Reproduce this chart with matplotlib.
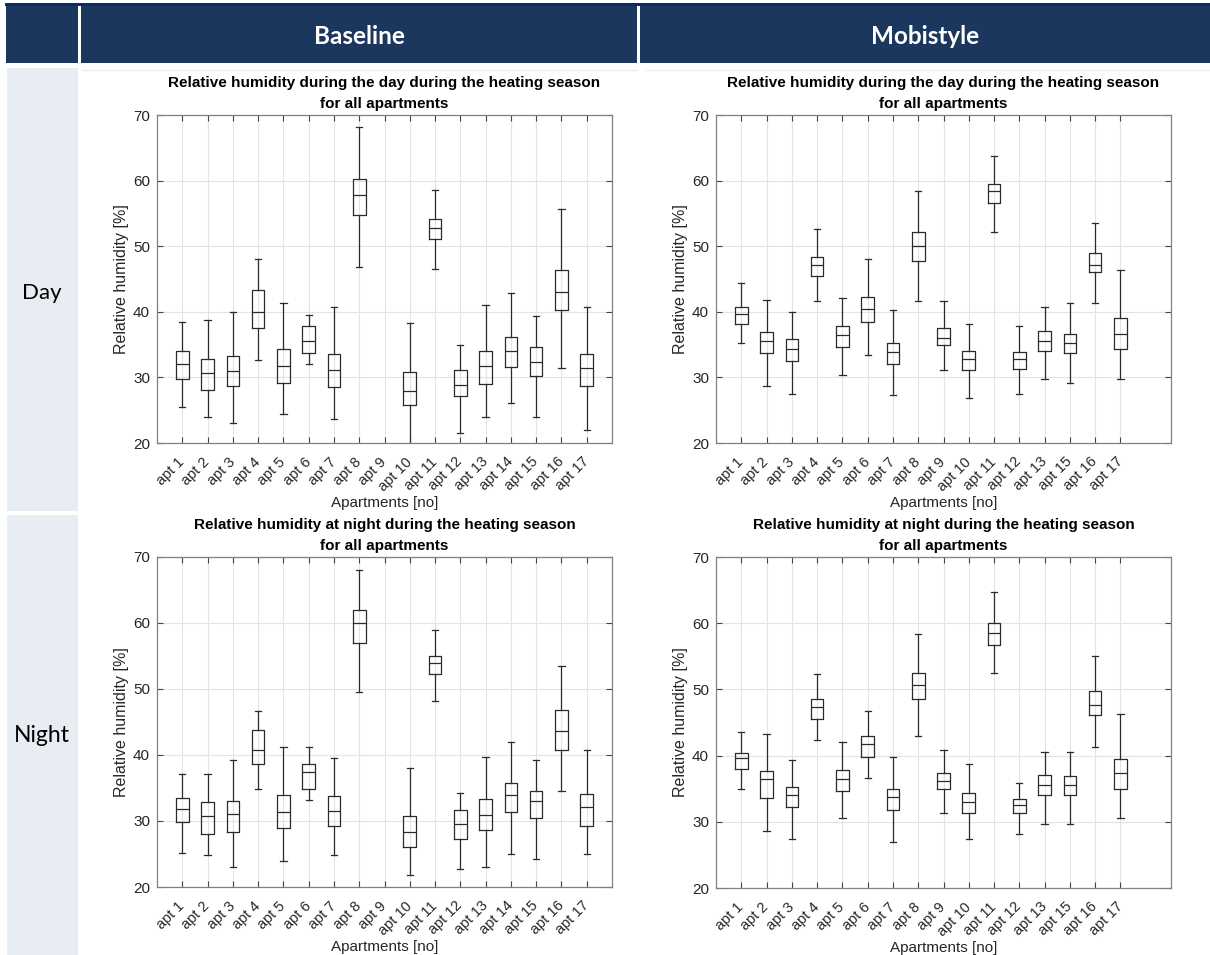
import numpy as np
import matplotlib.pyplot as plt
from matplotlib.patches import Rectangle
from matplotlib.lines import Line2D

plt.rcParams['font.family'] = ['Liberation Sans', 'DejaVu Sans']

W, H = 1210, 955

# categories
apts_base = ['apt 1', 'apt 2', 'apt 3', 'apt 4', 'apt 5', 'apt 6', 'apt 7', 'apt 8', 'apt 9',
             'apt 10', 'apt 11', 'apt 12', 'apt 13', 'apt 14', 'apt 15', 'apt 16', 'apt 17']
apts_mobi = ['apt 1', 'apt 2', 'apt 3', 'apt 4', 'apt 5', 'apt 6', 'apt 7', 'apt 8', 'apt 9',
             'apt 10', 'apt 11', 'apt 12', 'apt 13', 'apt 15', 'apt 16', 'apt 17']
nan = np.nan

# Baseline - day (apt 9 has no data)
bd_lo = [25.5, 24.0, 23.0, 32.7, 24.4, 32.0, 23.6, 46.8, nan, 19.0, 46.5, 21.5, 24.0, 26.1, 24.0, 31.4, 22.0]
bd_q1 = [29.8, 28.1, 28.7, 37.6, 29.1, 33.7, 28.6, 54.8, nan, 25.8, 51.1, 27.1, 29.0, 31.6, 30.2, 40.2, 28.7]
bd_md = [32.0, 30.7, 30.9, 40.0, 31.8, 35.5, 31.2, 57.8, nan, 28.0, 52.8, 28.9, 31.7, 34.0, 32.4, 43.0, 31.4]
bd_q3 = [34.0, 32.8, 33.3, 43.3, 34.3, 37.8, 33.6, 60.3, nan, 30.8, 54.1, 31.2, 34.0, 36.1, 34.6, 46.4, 33.6]
bd_hi = [38.4, 38.8, 40.0, 48.1, 41.4, 39.5, 40.8, 68.1, nan, 38.3, 58.6, 35.0, 41.0, 42.9, 39.3, 55.6, 40.8]

# Mobistyle - day
md_lo = [35.2, 28.7, 27.5, 41.7, 30.3, 33.4, 27.3, 41.6, 31.1, 26.8, 52.2, 27.4, 29.8, 29.1, 41.3, 29.7]
md_q1 = [38.2, 33.7, 32.5, 45.4, 34.7, 38.4, 32.0, 47.8, 34.9, 31.1, 56.6, 31.3, 34.1, 33.7, 46.0, 34.4]
md_md = [39.7, 35.6, 34.3, 47.1, 36.4, 40.5, 33.8, 50.1, 36.0, 32.8, 58.4, 32.8, 35.5, 35.3, 47.2, 36.6]
md_q3 = [40.7, 36.9, 35.9, 48.4, 37.8, 42.2, 35.3, 52.1, 37.5, 34.1, 59.5, 33.8, 37.1, 36.6, 49.0, 39.1]
md_hi = [44.4, 41.8, 39.9, 52.6, 42.1, 48.0, 40.2, 58.4, 41.6, 38.2, 63.8, 37.8, 40.7, 41.4, 53.6, 46.3]

# Baseline - night
bn_lo = [25.2, 24.8, 23.0, 34.9, 24.0, 33.2, 24.9, 49.5, nan, 21.8, 48.2, 22.8, 23.0, 25.0, 24.3, 34.6, 25.0]
bn_q1 = [29.8, 28.0, 28.3, 38.7, 29.0, 34.9, 29.3, 57.0, nan, 26.1, 52.3, 27.2, 28.7, 31.4, 30.5, 40.8, 29.2]
bn_md = [31.8, 30.8, 31.0, 40.8, 31.3, 37.5, 31.5, 60.0, nan, 28.3, 54.0, 29.6, 30.9, 34.0, 33.0, 43.7, 32.1]
bn_q3 = [33.5, 32.9, 33.0, 43.8, 34.0, 38.7, 33.8, 62.0, nan, 30.8, 55.0, 31.7, 33.3, 35.8, 34.6, 46.8, 34.1]
bn_hi = [37.1, 37.1, 39.2, 46.7, 41.2, 41.2, 39.5, 68.0, nan, 38.0, 59.0, 34.2, 39.7, 41.9, 39.2, 53.5, 40.8]

# Mobistyle - night
mn_lo = [35.0, 28.6, 27.4, 42.4, 30.5, 36.6, 27.0, 43.0, 31.3, 27.4, 52.5, 28.2, 29.7, 29.6, 41.3, 30.5]
mn_q1 = [38.0, 33.6, 32.2, 45.6, 34.7, 39.8, 31.8, 48.5, 34.9, 31.4, 56.7, 31.4, 34.0, 34.0, 46.1, 34.9]
mn_md = [39.6, 36.4, 34.0, 47.3, 36.4, 41.8, 33.7, 50.6, 36.2, 33.0, 58.5, 32.6, 35.5, 35.6, 47.7, 37.3]
mn_q3 = [40.4, 37.6, 35.3, 48.5, 37.8, 42.9, 35.0, 52.5, 37.3, 34.4, 60.0, 33.5, 37.0, 36.9, 49.7, 39.5]
mn_hi = [43.6, 43.2, 39.4, 52.4, 42.0, 46.8, 39.8, 58.3, 40.9, 38.7, 64.7, 35.8, 40.5, 40.6, 55.1, 46.3]

title_day = 'Relative humidity during the day during the heating season\nfor all apartments'
title_night = 'Relative humidity at night during the heating season\nfor all apartments'

fig = plt.figure(figsize=(W / 100, H / 100), dpi=100)


def rect(x0, y0, x1, y1, color):
    fig.add_artist(Rectangle((x0 / W, 1 - y1 / H), (x1 - x0) / W, (y1 - y0) / H,
                             transform=fig.transFigure, facecolor=color, edgecolor='none', zorder=0))


# table-like frame
navy = '#1B375E'
rect(5, 3, 1210, 6, '#0C2A63')
rect(6, 6, 78, 63, navy)
rect(81, 6, 637, 63, navy)
rect(640, 6, 1210, 63, navy)
rect(7, 68, 78, 511, '#E8ECF3')
rect(7, 515, 78, 955, '#E8ECF3')
for x0, x1 in [(82, 637), (645, 1210)]:
    fig.add_artist(Line2D([x0 / W, x1 / W], [1 - 70 / H] * 2, transform=fig.transFigure,
                          color='#eeeeee', lw=1))

fig.text(359 / W, 1 - 36 / H, 'Baseline', color='white', fontsize=17.5, fontweight='bold',
         family='Lato', ha='center', va='center')
fig.text(925 / W, 1 - 36 / H, 'Mobistyle', color='white', fontsize=17.5, fontweight='bold',
         family='Lato', ha='center', va='center')
fig.text(42 / W, 1 - 293 / H, 'Day', fontsize=16, family='Lato', ha='center', va='center')
fig.text(42 / W, 1 - 735 / H, 'Night', fontsize=16.5, family='Lato', ha='center', va='center')


def panel(box, labels, lo, q1, md, q3, hi, title):
    x0, y0, x1, y1 = box
    ax = fig.add_axes([x0 / W, 1 - y1 / H, (x1 - x0) / W, (y1 - y0) / H])
    stats, pos = [], []
    for i in range(len(labels)):
        if np.isnan(md[i]):
            continue
        stats.append(dict(whislo=lo[i], q1=q1[i], med=md[i], q3=q3[i], whishi=hi[i], fliers=[]))
        pos.append(i + 1)
    lc = '#2b2b2b'
    ax.bxp(stats, positions=pos, widths=0.5, capwidths=0.25, showfliers=False,
           boxprops=dict(color=lc, lw=0.9), whiskerprops=dict(color=lc, lw=0.9),
           capprops=dict(color=lc, lw=0.9), medianprops=dict(color=lc, lw=0.9))
    ax.set_xlim(0, 18)
    ax.set_ylim(20, 70)
    ax.set_yticks(range(20, 71, 10))
    ax.set_xticks(range(1, len(labels) + 1))
    ax.set_xticklabels(labels, rotation=45, ha='right', va='center', rotation_mode='anchor')
    ax.grid(True, color='#e3e3e3', lw=0.8)
    ax.set_axisbelow(True)
    ax.tick_params(direction='in', top=True, right=True, length=4, width=0.8, color='#444444',
                   labelcolor='#262626')
    ax.tick_params(axis='y', labelsize=11, pad=5)
    ax.tick_params(axis='x', labelsize=10.5, pad=12)
    for s in ax.spines.values():
        s.set_color('#808080')
        s.set_linewidth(0.9)
    ax.set_title(title, fontsize=11, fontweight='bold', pad=5, linespacing=1.6)
    ax.set_ylabel('Relative humidity [%]', fontsize=11.5, color='#262626', labelpad=3)
    ax.set_xlabel('Apartments [no]', fontsize=11, color='#262626', labelpad=2)
    return ax


panel((157, 115, 612, 443), apts_base, bd_lo, bd_q1, bd_md, bd_q3, bd_hi, title_day)
panel((716, 115, 1171, 443), apts_mobi, md_lo, md_q1, md_md, md_q3, md_hi, title_day)
panel((157, 557, 612, 887), apts_base, bn_lo, bn_q1, bn_md, bn_q3, bn_hi, title_night)
panel((716, 557, 1171, 888), apts_mobi, mn_lo, mn_q1, mn_md, mn_q3, mn_hi, title_night)

fig.savefig('out.png', dpi=100)
